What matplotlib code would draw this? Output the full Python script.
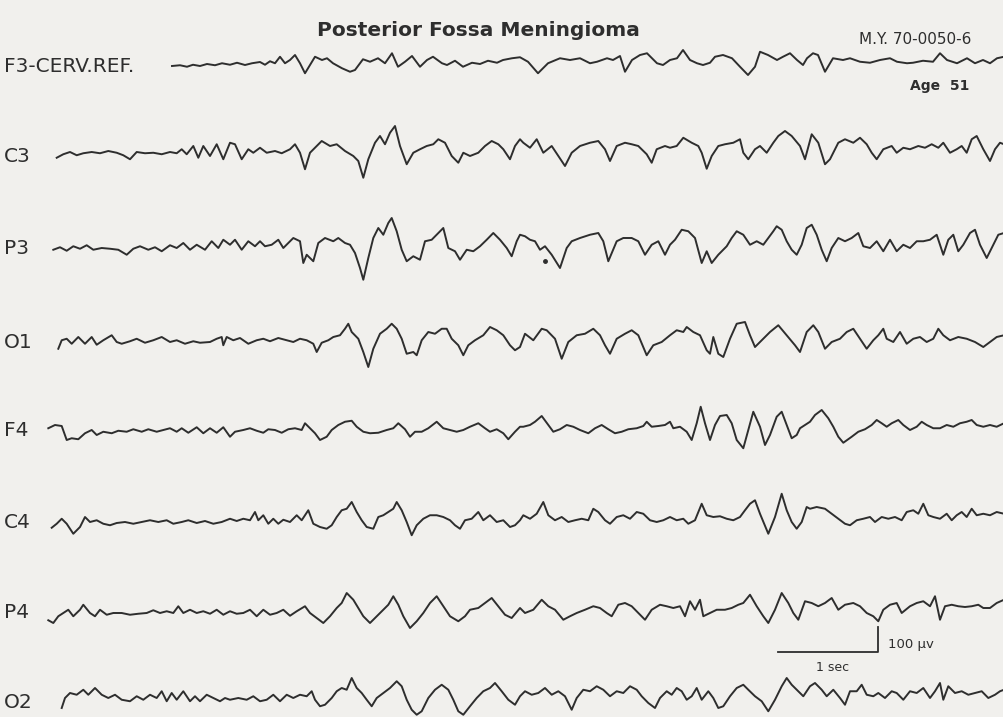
import matplotlib
matplotlib.use("Agg")
import matplotlib.pyplot as plt

# EEG traces: time in seconds, amplitude in microvolts
f3_t = [1.72, 1.80, 1.87, 1.93, 2.00, 2.07, 2.15, 2.22, 2.30, 2.37, 2.45, 2.52, 2.60, 2.65, 2.70, 2.75, 2.80,
        2.85, 2.90, 2.95, 3.00, 3.05, 3.10, 3.15, 3.22, 3.27, 3.33, 3.42, 3.50, 3.55, 3.63, 3.70, 3.78, 3.85,
        3.92, 3.98, 4.05, 4.12, 4.20, 4.27, 4.33, 4.42, 4.47, 4.55, 4.63, 4.72, 4.80, 4.88, 4.97, 5.03, 5.12,
        5.20, 5.28, 5.38, 5.48, 5.60, 5.70, 5.80, 5.90, 5.97, 6.07, 6.13, 6.20, 6.25, 6.32, 6.40, 6.47, 6.57,
        6.63, 6.70, 6.77, 6.83, 6.90, 6.97, 7.03, 7.10, 7.15, 7.23, 7.32, 7.40, 7.48, 7.55, 7.60, 7.68, 7.77,
        7.83, 7.90, 7.97, 8.03, 8.07, 8.13, 8.18, 8.25, 8.33, 8.43, 8.50, 8.60, 8.70, 8.80, 8.90, 8.97, 9.07,
        9.13, 9.23, 9.33, 9.40, 9.47, 9.57, 9.67, 9.75, 9.83, 9.90, 9.97, 10.04]
f3_uv = [0, 3, -3, 5, 0, 8, 3, 11, 5, 13, 4, 11, 16, 5, 19, 11, 37, 11, 24, 44, 11, -29, 4, 37, 24, 31, 11, -9,
         -23, -16, 27, 17, 31, 11, 51, -3, 17, 40, -3, 24, 37, 11, 4, 21, -3, 13, 8, 21, 13, 24, 31, 35,
         17, -29, 11, 31, 24, 31, 11, 17, 31, 24, 40, -23, 24, 44, 51, 11, 4, 24, 31, 64, 24, 11, 4, 13, 37, 44,
         31, -3, -36, -3, 57, 44, 24, 37, 51, 24, 4, 31, 51, 44, -23, 31, 24, 31, 17, 13, 24, 31, 17, 11, 13, 21,
         17, 51, 24, 11, 31, 11, 24, 11, 31, 37]

c3_t = [0.567, 0.633, 0.70, 0.767, 0.833, 0.917, 1.00, 1.083, 1.167, 1.233, 1.30, 1.367, 1.45, 1.533, 1.617,
        1.70, 1.767, 1.817, 1.867, 1.933, 1.983, 2.033, 2.10, 2.167, 2.233, 2.30, 2.35, 2.417, 2.483, 2.533,
        2.60, 2.667, 2.75, 2.817, 2.90, 2.95, 3.00, 3.05, 3.10, 3.167, 3.217, 3.30, 3.367, 3.45, 3.533, 3.583,
        3.633, 3.683, 3.75, 3.80, 3.85, 3.90, 3.95, 4.00, 4.067, 4.133, 4.20, 4.267, 4.333, 4.383, 4.45, 4.517,
        4.583, 4.633, 4.70, 4.783, 4.85, 4.917, 4.983, 5.033, 5.10, 5.15, 5.20,
        5.233, 5.30, 5.367, 5.433, 5.517, 5.583, 5.65, 5.717, 5.80, 5.90, 5.983, 6.05, 6.10, 6.167, 6.25,
        6.317, 6.383, 6.467, 6.517, 6.567, 6.65, 6.70, 6.767, 6.833, 6.917, 6.983, 7.017, 7.067, 7.117, 7.183,
        7.25, 7.333, 7.40, 7.433, 7.483, 7.55, 7.60, 7.667, 7.733, 7.783, 7.85, 7.917, 8.00, 8.05, 8.117,
        8.183, 8.25, 8.30, 8.383, 8.45, 8.533, 8.60, 8.667, 8.717, 8.767, 8.833, 8.917, 8.967, 9.033, 9.10,
        9.183, 9.25, 9.317, 9.383, 9.433, 9.50, 9.567, 9.617, 9.667, 9.717, 9.767, 9.833, 9.90, 9.95, 10.00,
        10.04]
c3_uv = [-7, 7, 16, 3, 11, 16, 11, 20, 13, 3, -13, 16, 11, 13, 7, 16, 11, 27, 7, 40, -7, 40, 0, 47, -13, 53, 47,
         -13, 27, 13, 33, 13, 20, 11, 27, 47, 13, -53, 13, 40, 60, 40, 47, 20, 0, -20, -87, -13, 53, 80, 47, 93,
         120, 40, -33, 13, 27, 40, 47, 67, 53, 0, -27, 13, 0, 13, 40, 60, 47, 27, -13, 40, 67,
         53, 33, 67, 13, 40, 0, -40, 13, 40, 53, 60, 27, -20, 40, 53, 47, 40, 7, -27, 27, 40, 33, 40, 73, 53, 40,
         13, -51, 0, 40, 47, 53, 67, 13, -13, 27, 40, 13, 53, 80, 100, 80, 40, -13, 87, 53, -33, -13, 53, 67, 53,
         73, 47, 13, -13, 27, 40, 13, 33, 27, 40, 33, 47, 33, 53, 13, 27, 40, 13, 67, 80, 27, -20, 27, 53, 47]

p3_t = [0.533, 0.60, 0.667, 0.733, 0.80, 0.867, 0.933, 1.017, 1.10, 1.183, 1.267, 1.333, 1.40, 1.483, 1.55,
        1.617, 1.70, 1.767, 1.833, 1.90, 1.967, 2.05, 2.117, 2.183, 2.233, 2.30, 2.35, 2.417, 2.483, 2.55, 2.60,
        2.65, 2.717, 2.783, 2.833, 2.883, 2.933, 3.00, 3.033, 3.067, 3.133, 3.183, 3.25, 3.333, 3.383, 3.45,
        3.50, 3.55, 3.60, 3.633, 3.683, 3.733, 3.783, 3.833, 3.883, 3.917, 3.967, 4.017, 4.067, 4.133, 4.20,
        4.25, 4.317, 4.383, 4.433, 4.483, 4.55, 4.60, 4.667, 4.733, 4.80, 4.867, 4.933, 5.00, 5.067, 5.117,
        5.167, 5.20,
        5.25, 5.30, 5.35, 5.40, 5.45, 5.517, 5.60, 5.667, 5.717, 5.80, 5.90, 5.983, 6.033, 6.083, 6.167, 6.233,
        6.317, 6.383, 6.45, 6.517, 6.583, 6.65, 6.70, 6.75, 6.817, 6.883, 6.95, 7.017, 7.067, 7.117, 7.183,
        7.267, 7.317, 7.367, 7.433, 7.50, 7.567, 7.633, 7.683, 7.733, 7.767, 7.817, 7.867, 7.917, 7.967, 8.017,
        8.067, 8.117, 8.167, 8.217, 8.267, 8.317, 8.383, 8.45, 8.517, 8.583, 8.633, 8.70, 8.767, 8.833, 8.90,
        8.967, 9.033, 9.10, 9.167, 9.233, 9.30, 9.367, 9.433, 9.483, 9.533, 9.583, 9.633, 9.70, 9.75, 9.80,
        9.867, 9.917, 9.983, 10.04]
p3_uv = [-7, 3, -11, 7, -3, 11, -7, 0, -3, -7, -27, -3, 7, -7, 3, -13, 11, 0, 20, -7, 13, -7, 27, 0, 33, 13, 33,
         -7, 27, 7, 27, 7, 13, 33, 0, 20, 40, 27, -60, -27, -53, 20, 40, 27, 40, 20, 13, -20, -80, -127, -40, 40,
         80, 53, 100, 120, 67, -7, -53, -33, -47, 27, 33, 60, 80, 0, -13, -47, -7, -13, 7, 33, 60, 33, 0, -33,
         27, 53,
         47, 33, 27, -7, 7, -27, -80, 0, 27, 40, 53, 60, 27, -53, 27, 40, 40, 27, -27, 13, 27, -27, 13, 33, 73,
         67, 40, -60, -13, -60, -27, 7, 40, 67, 53, 13, 27, 13, 40, 67, 87, 73, 27, -7, -27, 13, 80, 93, 53, -7,
         -53, 0, 40, 27, 40, 60, 7, 0, 27, -13, 33, -13, 13, 0, 27, 27, 33, 53, -27, 33, 53, -13, 13, 60, 73, 13,
         -40, 0, 53, 60]

o1_t = [0.583, 0.617, 0.667, 0.717, 0.783, 0.85, 0.917, 0.967, 1.033, 1.117, 1.167, 1.217, 1.30, 1.367, 1.45,
        1.533, 1.617, 1.70, 1.767, 1.85, 1.933, 2.00, 2.10, 2.167, 2.217, 2.233, 2.267, 2.333, 2.40, 2.483,
        2.567, 2.633, 2.70, 2.783, 2.867, 2.933, 3.00, 3.067, 3.133, 3.167, 3.217, 3.283, 3.333, 3.40, 3.45,
        3.483, 3.517, 3.583, 3.633, 3.683, 3.733, 3.80, 3.867, 3.917, 3.967, 4.017, 4.067, 4.133, 4.167, 4.217,
        4.283, 4.35, 4.417, 4.467, 4.517, 4.583, 4.633, 4.683, 4.75, 4.833, 4.90, 4.967, 5.033, 5.10, 5.15,
        5.20,
        5.25, 5.333, 5.417, 5.467, 5.55, 5.617, 5.683, 5.767, 5.85, 5.933, 6.00, 6.05, 6.10, 6.167, 6.25,
        6.317, 6.383, 6.467, 6.533, 6.617, 6.70, 6.767, 6.833, 6.867, 6.933, 7.00, 7.067, 7.10, 7.133, 7.183,
        7.233, 7.30, 7.367, 7.45, 7.50, 7.55, 7.617, 7.70, 7.783, 7.867, 7.95, 8.00, 8.067, 8.133, 8.183, 8.25,
        8.317, 8.40, 8.467, 8.533, 8.60, 8.667, 8.733, 8.783, 8.833, 8.867, 8.933, 9.00, 9.067, 9.133, 9.20,
        9.267, 9.333, 9.383, 9.433, 9.50, 9.583, 9.667, 9.75, 9.833, 9.90, 9.967, 10.04]
o1_uv = [-27, 7, 13, -7, 20, -7, 20, -11, 7, 27, 0, -7, 3, 13, -3, 7, 20, 0, 7, -7, 3, -3, 0, 13, 20, -13, 20, 7,
         16, -7, 7, 13, 3, 16, 7, 0, 13, 7, -7, -40, -3, 7, 20, 27, 53, 73, 40, 13, -40, -100, -27, 33, 53, 73,
         53, 13, -47, -40, -53, 7, 40, 33, 53, 53, 13, -13, -53, -13, 7, 27, 60, 47, 27, -13, -33, -20,
         33, 7, 53, 47, 13, -67, 0, 27, 33, 53, 27, -13, -47, 13, 33, 47, 27, -53, -13, 0, 27, 47, 40, 60, 40,
         27, -33, -47, 20, -47, -60, 13, 73, 80, 27, -20, 7, 40, 67, 27, -13, -40, 40, 67, 40, -27, 0, 13, 40,
         53, 13, -27, 7, 27, 53, 13, 0, 40, -7, 13, 20, 0, 13, 53, 27, 7, 20, 13, 0, -20, 0, 20, 27]

f4_t = [0.483, 0.55, 0.617, 0.667, 0.717, 0.783, 0.85, 0.917, 0.967, 1.033, 1.117, 1.183, 1.267, 1.333, 1.417,
        1.483, 1.567, 1.633, 1.70, 1.767, 1.817, 1.883, 1.967, 2.033, 2.10, 2.167, 2.233, 2.30, 2.35, 2.433,
        2.50, 2.567, 2.633, 2.683, 2.75, 2.817, 2.883, 2.95, 3.017, 3.05, 3.10, 3.15, 3.20, 3.267, 3.317, 3.383,
        3.45, 3.517, 3.567, 3.633, 3.70, 3.783, 3.867, 3.933, 3.983, 4.05, 4.10, 4.15, 4.217, 4.283, 4.367,
        4.433, 4.50, 4.567, 4.633, 4.70, 4.783, 4.85, 4.90, 4.967, 5.033, 5.083, 5.15, 5.20,
        5.233, 5.30, 5.35, 5.417, 5.483, 5.533, 5.60, 5.667, 5.733, 5.80, 5.883, 5.95, 6.017, 6.083, 6.15,
        6.217, 6.283, 6.367, 6.433, 6.467, 6.517, 6.583, 6.65, 6.70, 6.733, 6.80, 6.867, 6.917, 6.967, 7.007,
        7.05, 7.10, 7.15, 7.20, 7.267, 7.317, 7.367, 7.433, 7.483, 7.533, 7.60, 7.65, 7.70, 7.767, 7.817, 7.867,
        7.917, 7.967, 8.00, 8.05, 8.10, 8.15, 8.217, 8.283, 8.333, 8.383, 8.433, 8.517, 8.583, 8.65, 8.717,
        8.767, 8.817, 8.867, 8.917, 8.983, 9.033, 9.10, 9.167, 9.217, 9.267, 9.333, 9.40, 9.467, 9.533, 9.60,
        9.667, 9.717, 9.767, 9.833, 9.90, 9.967, 10.04]
f4_uv = [7, 20, 16, -40, -33, -37, -13, 0, -20, -7, -13, -3, -7, 3, -7, 3, -7, 0, 7, -7, 7, -11, 11, -13, 7, -11,
         11, -27, -7, 0, 7, -3, -11, 3, 0, -11, 3, 7, 0, 27, 7, -13, -40, -27, 0, 20, 33, 37, 13, -7, -13, -11, 0,
         7, 27, 3, -27, -7, -7, 7, 33, 7, 0, -7, 0, 13, 27, 7, -7, 3, -13, -37, -7, 13,
         13, 20, 33, 56, 20, -7, 3, 20, 13, 0, -13, 7, 20, 3, -13, -7, 3, 7, 16, 33, 13, 16, 20, 33, 7, 13, -7,
         -40, 27, 93, 27, -40, 20, 56, 60, 27, -40, -73, 0, 73, 13, -60, -20, 53, 73, 20, -33, -20, 7, 20, 33,
         60, 80, 47, 13, -27, -51, -27, -7, 3, 20, 40, 27, 13, 27, 40, 20, 0, 13, 33, 20, 7, 7, 20, 13, 27, 33,
         40, 20, 13, 20, 13, 27]

c4_t = [0.517, 0.567, 0.617, 0.667, 0.733, 0.80, 0.85, 0.90, 0.967, 1.033, 1.10, 1.167, 1.25, 1.333, 1.417,
        1.50, 1.583, 1.667, 1.733, 1.817, 1.883, 1.967, 2.05, 2.133, 2.217, 2.30, 2.367, 2.433, 2.50, 2.55,
        2.583, 2.633, 2.683, 2.733, 2.783, 2.833, 2.90, 2.967, 3.017, 3.05, 3.083, 3.133, 3.20, 3.267, 3.317,
        3.367, 3.417, 3.467, 3.517, 3.567, 3.617, 3.667, 3.733, 3.783, 3.833, 3.883, 3.933, 3.967, 4.017,
        4.067, 4.117, 4.167, 4.233, 4.30, 4.367, 4.433, 4.50, 4.55, 4.60, 4.65, 4.717, 4.783, 4.833, 4.90,
        4.967, 5.033, 5.10, 5.15, 5.20,
        5.233, 5.30, 5.367, 5.433, 5.483, 5.55, 5.617, 5.683, 5.75, 5.817, 5.883, 5.933, 5.983, 6.05, 6.10,
        6.167, 6.233, 6.30, 6.367, 6.433, 6.50, 6.567, 6.633, 6.70, 6.767, 6.833, 6.883, 6.95, 7.017, 7.067,
        7.133, 7.20, 7.267, 7.333, 7.40, 7.45, 7.50, 7.55, 7.60, 7.683, 7.75, 7.817, 7.867, 7.917, 7.967, 8.017,
        8.067, 8.10, 8.167, 8.25, 8.317, 8.383, 8.45, 8.50, 8.567, 8.633, 8.70, 8.75, 8.817, 8.883, 8.95,
        9.017, 9.067, 9.133, 9.183, 9.233, 9.283, 9.333, 9.40, 9.467, 9.517, 9.567, 9.617, 9.667, 9.717, 9.767,
        9.833, 9.90, 9.967, 10.04]
c4_uv = [-23, -7, 13, -7, -47, -20, 20, 0, 7, -7, -13, -4, 0, -7, 0, 7, 0, 7, -7, 0, 7, -4, 4, -7, 0, 13, 4, 13,
         7, 40, 7, 27, -7, 13, -7, 9, 0, 27, 7, 27, 47, -7, -20, -27, -13, 20, 47, 53, 80, 40, 7, -20, -27, 20, 27,
         40, 53, 80, 47, 0, -53, -13, 13, 27, 27, 20, 7, -13, -27, 7, 13, 40, 7, 27, 0, 7, -20, -13, 7,
         27, 13, 33, 80, 27, 7, 20, 0, 7, 13, 7, 53, 40, 7, -7, 20, 27, 13, 40, 33, 7, 0, 7, 20, 7, 13, -7, 7,
         73, 27, 20, 23, 13, 7, 20, 47, 73, 87, 33, -47, 20, 113, 47, 0, -27, 0, 60, 53, 60, 53, 33, 13, -7, -13,
         7, 13, 20, 0, 20, 13, 20, 7, 40, 47, 33, 73, 27, 20, 13, 33, 7, 27, 40, 20, 53, 27, 33, 27, 40, 33]

p4_t = [0.483, 0.533, 0.583, 0.633, 0.683, 0.733, 0.80, 0.833, 0.90, 0.95, 1.00, 1.067, 1.133, 1.217, 1.30,
        1.383, 1.467, 1.533, 1.60, 1.667, 1.733, 1.783, 1.833, 1.90, 1.967, 2.033, 2.10, 2.167, 2.233, 2.30,
        2.367, 2.433, 2.50, 2.567, 2.633, 2.70, 2.767, 2.833, 2.90, 2.967, 3.05, 3.10, 3.167, 3.233, 3.30,
        3.367, 3.417, 3.467, 3.533, 3.583, 3.633, 3.70, 3.767, 3.833, 3.883, 3.933, 3.983, 4.033, 4.10, 4.167,
        4.233, 4.30, 4.367, 4.433, 4.50, 4.583, 4.65, 4.70, 4.783, 4.85, 4.917, 4.983, 5.05, 5.117, 5.20,
        5.25, 5.333, 5.417, 5.483, 5.55, 5.633, 5.70, 5.767, 5.85, 5.933, 6.00, 6.067, 6.117, 6.183, 6.25,
        6.317, 6.383, 6.45, 6.517, 6.60, 6.667, 6.733, 6.80, 6.85, 6.90, 6.95, 7.00, 7.033, 7.10, 7.167, 7.25,
        7.317, 7.383, 7.433, 7.50, 7.567, 7.633, 7.683, 7.75, 7.817, 7.883, 7.933, 7.983, 8.05, 8.117, 8.183,
        8.25, 8.317, 8.383, 8.45, 8.533, 8.60, 8.667, 8.733, 8.783, 8.833, 8.90, 8.967, 9.017, 9.10, 9.167,
        9.233, 9.30, 9.35, 9.40, 9.45, 9.517, 9.583, 9.65, 9.717, 9.783, 9.833, 9.90, 9.967, 10.04]
p4_uv = [-29, -40, -13, 0, 13, -13, 13, 33, 0, -13, 13, -7, 0, 0, -7, -3, 0, 11, 0, 7, 0, 27, 0, 13, 0, 7, -3,
         13, -7, 7, -3, 0, 13, -13, 13, -7, 0, 13, -11, 7, 27, 0, -20, -40, -13, 20, 40, 80, 53, 20, -13, -40,
         -13, 13, 33, 67, 33, -13, -60, -33, 0, 40, 67, 27, -13, -33, -13, 13, 20, 40, 60, 27, -7, -20, 20,
         0, 13, 53, 27, 13, -27, -13, 0, 13, 27, 20, 0, -13, 33, 40, 27, 0, -27, 13, 33, 27, 20, 27, -13, 47,
         13, 53, -13, 0, 13, 13, 20, 33, 40, 73, 27, -13, -40, 13, 80, 40, 0, -27, 47, 40, 27, 40, 60, 13, 33,
         40, 27, 0, -13, -33, 13, 33, 40, 0, 27, 40, 47, 27, 67, -27, 27, 33, 27, 24, 27, 33, 20, 20, 40, 53]

o2_t = [0.617, 0.65, 0.70, 0.767, 0.833, 0.883, 0.95, 1.017, 1.083, 1.15, 1.217, 1.30, 1.367, 1.433, 1.50,
        1.567, 1.617, 1.667, 1.717, 1.767, 1.833, 1.90, 1.95, 2.00, 2.067, 2.133, 2.20, 2.25, 2.30, 2.383,
        2.467, 2.533, 2.60, 2.667, 2.733, 2.80, 2.867, 2.933, 3.00, 3.067, 3.117, 3.15, 3.20, 3.25, 3.317,
        3.367, 3.417, 3.467, 3.517, 3.567, 3.617, 3.667, 3.717, 3.767, 3.833, 3.90, 3.967, 4.017, 4.067, 4.117,
        4.167, 4.217, 4.283, 4.35, 4.417, 4.483, 4.533, 4.583, 4.633, 4.70, 4.767, 4.833, 4.90, 4.95, 5.017,
        5.083, 5.15, 5.20,
        5.25, 5.317, 5.383, 5.45, 5.517, 5.583, 5.65, 5.717, 5.767, 5.833, 5.90, 5.967, 6.033, 6.10, 6.167,
        6.233, 6.30, 6.367, 6.417, 6.483, 6.55, 6.60, 6.667, 6.717, 6.767, 6.817, 6.867, 6.917, 6.967, 7.017,
        7.083, 7.133, 7.183, 7.233, 7.30, 7.367, 7.433, 7.483, 7.55, 7.617, 7.683, 7.75, 7.817, 7.867, 7.917,
        7.967, 8.033, 8.10, 8.15, 8.217, 8.267, 8.333, 8.40, 8.45, 8.50, 8.567, 8.617, 8.667, 8.733, 8.783,
        8.85, 8.917, 8.967, 9.033, 9.10, 9.167, 9.233, 9.30, 9.35, 9.40, 9.433, 9.483, 9.55, 9.617, 9.683,
        9.75, 9.817, 9.883, 9.95, 10.00, 10.04]
o2_uv = [-20, 20, 40, 33, 53, 33, 60, 33, 20, 33, 13, 7, 27, 13, 33, 20, 47, 7, 40, 13, 47, 7, 27, 7, 33, 20,
         7, 20, 13, 20, 13, 27, 7, 13, 33, 7, 33, 20, 33, 27, 47, 13, -13, -7, 20, 47, 60, 53, 100, 60, 40, 13,
         -13, 20, 40, 60, 87, 67, 13, -27, -47, -33, 20, 53, 73, 53, 13, -33, -47, -13, 20, 47, 60, 80, 47, 13,
         -7, 27,
         47, 33, 40, 60, 33, 47, 27, -27, 20, 53, 47, 67, 53, 27, 47, 40, 67, 53, 27, 0, -20, 20, 47, 33, 60,
         47, 13, 27, 60, 13, 47, 20, -20, -13, 27, 60, 73, 53, 27, 7, -33, 13, 67, 100, 73, 53, 27, 67, 80, 53,
         27, 53, 20, -7, 47, 47, 73, 33, 27, 40, 20, 47, 40, 13, 47, 40, 60, 20, 47, 80, 13, 67, 40, 47, 33, 40,
         47, 20, 33, 47, 53]

channels = ["F3-CERV.REF.", "C3", "P3", "O1", "F4", "C4", "P4", "O2"]
traces = [(f3_t, f3_uv), (c3_t, c3_uv), (p3_t, p3_uv), (o1_t, o1_uv),
          (f4_t, f4_uv), (c4_t, c4_uv), (p4_t, p4_uv), (o2_t, o2_uv)]

# calibration
scale_sec = 1.0
scale_uv = 100

# layout (pixels from top of the page)
W, H = 1004, 717
baselines = [66, 156, 248, 342, 430, 522, 613, 703]
PX_PER_SEC = 100
UV_PER_PX = 4
BG = "#f1f0ed"
INK = "#2e2e2e"
FONT = ["DejaVu Sans"]

fig = plt.figure(figsize=(W / 100, H / 100), dpi=100, facecolor=BG)

half = 60
axes = []
for name, (t, uv), base in zip(channels, traces, baselines):
    ax = fig.add_axes([0, 1 - (base + half) / H, 1, 2 * half / H])
    ax.set_xlim(0, W / PX_PER_SEC)
    ax.set_ylim(-half * UV_PER_PX, half * UV_PER_PX)
    ax.axis("off")
    ax.patch.set_alpha(0)
    ax.plot(t, uv, color=INK, lw=1.4, solid_joinstyle="round", clip_on=False)
    fig.text(4 / W, 1 - base / H, name, ha="left", va="center", fontsize=14.5,
             family=FONT, color=INK)
    axes.append(ax)

# small ink dot on the P3 trace
axes[2].plot([5.45], [-53], "o", color=INK, ms=2.5)

# calibration bar on the P4 channel
cal = axes[6]
x0, y0 = 7.78, -156
cal.plot([x0, x0 + scale_sec, x0 + scale_sec], [y0, y0, y0 + scale_uv], color=INK, lw=1.3, clip_on=False)
cal.text(x0 + scale_sec + 0.1, y0 + 30, "100 µv", ha="left", va="center", fontsize=9.5, family=FONT, color=INK)
cal.text(x0 + scale_sec / 2 + 0.05, y0 - 62, "1 sec", ha="center", va="center", fontsize=9, family=FONT,
         color=INK, clip_on=False)

fig.text(478 / W, 1 - 30 / H, "Posterior Fossa Meningioma", ha="center", va="center", fontsize=14.5,
         family=FONT, fontweight="bold", color=INK)
fig.text(915 / W, 1 - 39 / H, "M.Y. 70-0050-6", ha="center", va="center", fontsize=11, family=FONT, color=INK)
fig.text(940 / W, 1 - 86 / H, "Age  51", ha="center", va="center", fontsize=10, family=FONT,
         fontweight="bold", color=INK)

fig.savefig("out.png", dpi=100, facecolor=BG)
